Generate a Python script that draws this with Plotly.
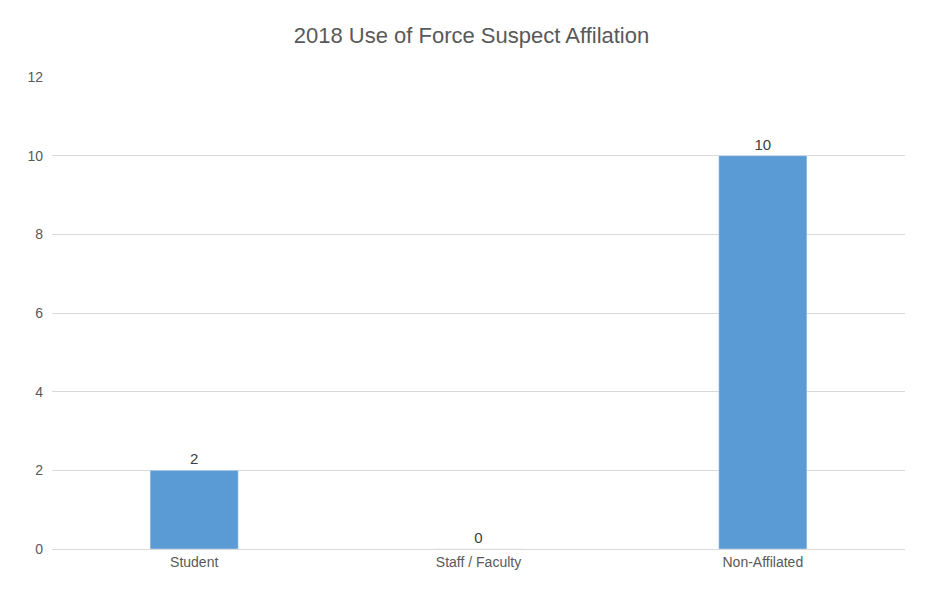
import plotly.graph_objects as go

categories = ["Student", "Staff / Faculty", "Non-Affilated"]
values = [2, 0, 10]
y_ticks = [0, 2, 4, 6, 8, 10, 12]

fig = go.Figure()
fig.add_trace(go.Bar(
    x=categories, y=values, marker_color="#5b9bd5",
    text=[str(v) for v in values], textposition="outside",
    textfont=dict(size=15, color="#404040"), cliponaxis=False,
))

fig.update_layout(
    width=927, height=600,
    margin=dict(l=44, r=30, t=69, b=59),
    paper_bgcolor="white", plot_bgcolor="white",
    font=dict(family="Liberation Sans, Arial", color="#595959", size=14),
    title=dict(text="2018 Use of Force Suspect Affilation", x=0.5, xanchor="center",
               y=0.955, yanchor="middle", font=dict(size=22, color="#595959")),
    bargap=0.69,
    showlegend=False,
)
fig.update_xaxes(showline=True, linecolor="#d9d9d9", ticks="", showgrid=False)
fig.update_yaxes(range=[0, 12], tickvals=y_ticks, gridcolor="#d9d9d9",
                 zeroline=False, ticks="", ticklabelstandoff=8)

fig.write_html("out.html")
